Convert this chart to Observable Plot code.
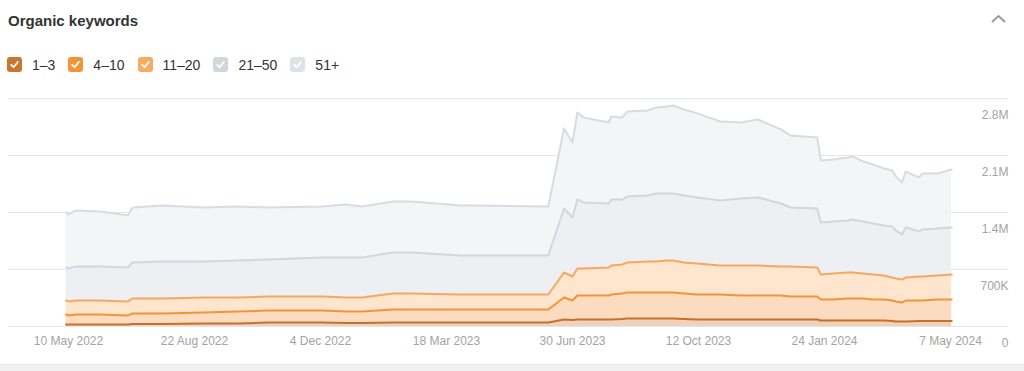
<!DOCTYPE html>
<html><head><meta charset="utf-8">
<script src="https://cdn.jsdelivr.net/npm/d3@7"></script>
<script src="https://cdn.jsdelivr.net/npm/@observablehq/plot@0.6"></script>
<style>
html,body{margin:0;padding:0;background:#fff;width:1024px;height:371px;overflow:hidden;font-family:"Helvetica Neue",Helvetica,Arial,"Liberation Sans",sans-serif;}
#title{position:absolute;left:8px;top:12px;font-size:15px;line-height:18px;font-weight:700;color:#333;}
#chev{position:absolute;left:988px;top:11px;}
#legend{position:absolute;left:7px;top:56px;display:flex;align-items:center;font-size:14px;line-height:16px;color:#333;height:17px;}
.item{display:flex;align-items:center;margin-right:13px;}
.box{width:15px;height:15px;border-radius:3px;margin-right:10px;display:flex;align-items:center;justify-content:center;}
#chart{position:absolute;left:0;top:80px;}
#band{position:absolute;left:0;top:364px;width:1024px;height:7px;background:#f1f1f1;border-top:1px solid #e6e6e6;}
</style></head>
<body>
<div id="title">Organic keywords</div>
<svg id="chev" width="20" height="16"><polyline points="4,11 10.5,5 17,11" fill="none" stroke="#9a9a9a" stroke-width="2"/></svg>
<div id="legend"></div>
<div id="chart"></div>
<div id="band"></div>
<script>
// ---- data ----
const dates = ["2022-05-08","2022-05-10","2022-05-16","2022-06-05","2022-06-28","2022-07-02","2022-07-26","2022-08-30","2022-09-26","2022-10-22","2022-12-05","2022-12-25","2023-01-07","2023-02-02","2023-02-17","2023-03-30","2023-04-11","2023-06-10","2023-06-23","2023-06-30","2023-07-04","2023-07-09","2023-07-30","2023-08-01","2023-08-10","2023-08-14","2023-08-31","2023-09-07","2023-09-16","2023-09-21","2023-09-30","2023-10-11","2023-10-30","2023-11-16","2023-11-30","2023-12-19","2023-12-27","2024-01-18","2024-01-21","2024-01-31","2024-02-12","2024-02-16","2024-02-25","2024-03-04","2024-03-13","2024-03-20","2024-03-23","2024-03-28","2024-03-31","2024-04-11","2024-04-14","2024-04-26","2024-05-08"];
const s1_3   = [25000,25000,25000,25000,25000,31000,31000,37000,37000,49000,49000,43000,43000,49000,49000,49000,49000,49000,86000,80000,86000,86000,86000,86000,92000,98000,98000,98000,98000,98000,92000,86000,86000,86000,86000,86000,86000,86000,74000,74000,74000,74000,74000,74000,74000,68000,61000,61000,61000,68000,68000,68000,68000];
const s4_10  = [123000,111000,123000,123000,111000,129000,129000,135000,147000,147000,147000,141000,141000,160000,160000,160000,160000,160000,270000,239000,295000,295000,295000,307000,313000,319000,319000,319000,319000,319000,313000,307000,307000,295000,295000,295000,282000,282000,258000,258000,270000,270000,270000,258000,258000,252000,246000,233000,258000,252000,252000,264000,264000];
const s11_20 = [172000,172000,172000,172000,172000,184000,184000,184000,172000,172000,172000,172000,172000,196000,196000,184000,184000,184000,307000,295000,332000,332000,344000,356000,356000,368000,381000,381000,393000,393000,381000,381000,356000,368000,368000,356000,368000,356000,307000,319000,319000,319000,307000,307000,295000,282000,282000,282000,282000,295000,295000,295000,307000];
const s21_50 = [405000,405000,418000,418000,418000,442000,454000,442000,454000,454000,479000,491000,491000,504000,504000,479000,479000,479000,786000,725000,847000,811000,786000,811000,798000,811000,811000,835000,823000,823000,823000,811000,798000,823000,835000,774000,725000,725000,639000,639000,639000,651000,639000,626000,614000,626000,589000,553000,614000,553000,577000,577000,577000];
const s51    = [675000,663000,688000,675000,639000,675000,688000,663000,663000,639000,626000,651000,626000,626000,626000,614000,614000,602000,982000,921000,1068000,1044000,995000,1019000,1007000,1044000,1044000,1056000,1068000,1081000,1056000,1032000,970000,933000,958000,909000,884000,872000,761000,761000,774000,774000,737000,725000,700000,688000,663000,639000,688000,663000,688000,675000,712000];
const seriesNames = ["1–3","4–10","11–20","21–50","51+"];
const seriesValues = [s1_3, s4_10, s11_20, s21_50, s51];
const yTicks = [0, 700000, 1400000, 2100000, 2800000];
const yTickLabels = ["0","700K","1.4M","2.1M","2.8M"];
const xTickDates = ["2022-05-10","2022-08-22","2022-12-04","2023-03-18","2023-06-30","2023-10-12","2024-01-24","2024-05-07"];

// ---- styles ----
const boxColor  = {"1–3":"#c8762f","4–10":"#f2953a","11–20":"#f6ad63","21–50":"#d3d6dc","51+":"#dfe2e7"};
const fillColor = {"1–3":"#efd2bb","4–10":"#fcdcc1","11–20":"#fde5ce","21–50":"#edeff2","51+":"#f4f5f7"};
const lineColor = {"1–3":"#c8702a","4–10":"#f29437","11–20":"#f5a860","21–50":"#d2d6dd","51+":"#d8dce2"};

const parse = d3.utcParse("%Y-%m-%d");
const rows = [];
seriesNames.forEach((s, j) => {
  dates.forEach((d, i) => rows.push({date: parse(d), series: s, value: seriesValues[j][i]}));
});
const xTicks = xTickDates.map(parse);

// layout of the frame: first tick at px 68, last at px 950, frame 8..1008
const t0 = xTicks[0], t1 = xTicks[xTicks.length - 1];
const k = (t1 - t0) / (950 - 68);
const xDomain = [new Date(+t0 - (68 - 8) * k), new Date(+t1 + (1008 - 950) * k)];
const yLabel = new Map(yTicks.map((t, i) => [t, yTickLabels[i]]));

// legend
const legend = document.getElementById("legend");
seriesNames.forEach(s => {
  const it = document.createElement("div");
  it.className = "item";
  it.innerHTML = `<div class="box" style="background:${boxColor[s]}"><svg width="11" height="11"><polyline points="2.2,5.8 4.6,8.2 8.8,3" fill="none" stroke="#fff" stroke-width="1.8" stroke-linecap="round" stroke-linejoin="round"/></svg></div><span>${s}</span>`;
  legend.appendChild(it);
});

const chart = Plot.plot({
  width: 1024, height: 285,
  marginLeft: 8, marginRight: 16, marginTop: 18, marginBottom: 39,
  x: {type: "utc", domain: xDomain},
  y: {domain: [0, 2800000]},
  color: {type: "identity"},
  style: {fontFamily: '"Helvetica Neue",Helvetica,Arial,"Liberation Sans",sans-serif', fontSize: "12px", color: "#a3a3a3", background: "transparent", overflow: "visible"},
  marks: [
    Plot.gridY(yTicks, {stroke: "#e6e6e6", strokeOpacity: 1}),
    Plot.areaY(rows, {x: "date", y: "value", z: "series", fill: d => fillColor[d.series]}),
    Plot.lineY(rows, Plot.stackY2({x: "date", y: "value", z: "series", stroke: d => lineColor[d.series], strokeWidth: 2})),
    Plot.axisX({ticks: xTicks, tickFormat: d3.utcFormat("%-d %b %Y"), tickSize: 0, tickPadding: 10, label: null}),
    Plot.axisY({anchor: "right", ticks: yTicks, tickFormat: d => yLabel.get(d), tickSize: 0, tickPadding: 0, textAnchor: "end", dy: 17, label: null})
  ]
});
document.getElementById("chart").appendChild(chart);
</script>
</body></html>
